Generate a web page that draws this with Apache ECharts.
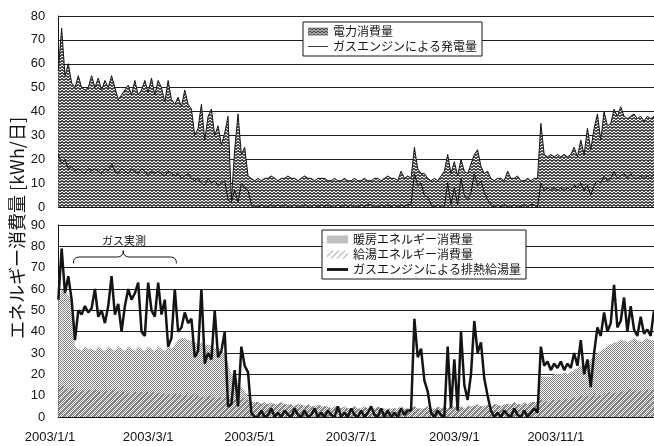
<!DOCTYPE html>
<html>
<head>
<meta charset="utf-8">
<script src="https://cdn.jsdelivr.net/npm/echarts@6/dist/echarts.min.js"></script>
<style>
  html, body { margin: 0; padding: 0; background: #fff; }
  #chart { width: 654px; height: 446px; }
</style>
</head>
<body>
<div id="chart"></div>
<script>
// Daily energy records for 2003, sampled every second day starting at day-of-year 5.
const firstDay = 5;
const dayStep = 2;

// Upper panel [kWh/day]
const power = [
  57, 75, 55, 60, 52, 50, 55, 50, 49, 50,
  55, 50, 54, 49, 53, 50, 55, 50, 45, 47,
  49, 51, 47, 53, 47, 49, 53, 48, 54, 47,
  53, 50, 44, 53, 45, 43, 46, 42, 49, 43,
  41, 30, 33, 43, 28, 38, 41, 30, 34, 26,
  31, 38, 3, 24, 39, 22, 25, 13, 12, 11,
  12, 11, 12, 12, 13, 12, 11, 12, 12, 13,
  12, 12, 11, 12, 13, 12, 12, 11, 12, 12,
  12, 11, 11, 12, 11, 11, 12, 11, 11, 12,
  11, 11, 12, 11, 11, 12, 12, 11, 12, 13,
  12, 12, 11, 15, 12, 13, 12, 25, 16, 14,
  14, 12, 11, 12, 11, 13, 15, 22, 14, 19,
  13, 20, 15, 14, 18, 22, 24, 17, 14, 15,
  12, 11, 12, 12, 11, 15, 12, 12, 13, 11,
  11, 12, 11, 12, 12, 35, 22, 21, 22, 21,
  22, 21, 22, 21, 22, 25, 21, 28, 22, 33,
  24, 33, 39, 28, 40, 34, 35, 41, 38, 42,
  38, 37, 38, 39, 37, 38, 36, 38, 37, 38
];
const gasGen = [
  22, 18, 20, 16, 17, 15, 16, 15, 14, 16,
  15, 16, 15, 14, 16, 15, 18, 15, 14, 16,
  15, 14, 16, 15, 14, 16, 15, 13, 15, 14,
  15, 14, 13, 15, 14, 13, 14, 12, 13, 14,
  12, 11, 12, 10, 9, 12, 10, 11, 9, 10,
  11, 3, 2, 7, 2, 10, 8, 7, 1, 0,
  0, 1, 0, 0, 1, 0, 1, 0, 1, 0,
  0, 1, 0, 0, 1, 0, 0, 1, 0, 1,
  0, 1, 0, 0, 1, 0, 1, 0, 1, 0,
  0, 1, 0, 1, 1, 0, 0, 1, 0, 1,
  0, 1, 0, 1, 0, 1, 1, 14, 9, 10,
  5, 4, 1, 0, 1, 0, 0, 10, 1, 8,
  1, 12, 5, 3, 6, 14, 9, 11, 6, 3,
  1, 0, 1, 0, 1, 0, 0, 1, 0, 0,
  1, 0, 1, 1, 0, 10, 7, 8, 7, 8,
  7, 8, 7, 8, 7, 9, 8, 10, 7, 9,
  5, 9, 11, 10, 13, 11, 12, 15, 12, 13,
  14, 12, 14, 12, 12, 13, 12, 13, 12, 14
];

// Lower panel [kWh/day]
const heating = [
  41, 45, 44, 44, 41, 20, 20, 18, 21, 19,
  20, 18, 21, 20, 18, 21, 20, 18, 21, 20,
  19, 22, 20, 19, 22, 20, 20, 21, 21, 19,
  22, 20, 20, 22, 22, 23, 25, 27, 26, 26,
  26, 24, 24, 25, 24, 24, 23, 23, 23, 22,
  21, 16, 12, 13, 7, 6, 3, 2, 0, 0,
  0, 0, 0, 0, 0, 0, 0, 0, 0, 0,
  0, 0, 0, 0, 0, 0, 0, 0, 0, 0,
  0, 0, 0, 0, 0, 0, 0, 0, 0, 0,
  0, 0, 0, 0, 0, 0, 0, 0, 0, 0,
  0, 0, 0, 0, 0, 0, 0, 0, 0, 0,
  0, 0, 0, 0, 0, 0, 0, 0, 0, 0,
  0, 0, 0, 0, 0, 0, 0, 0, 0, 0,
  0, 0, 0, 0, 0, 0, 0, 0, 0, 0,
  0, 0, 0, 0, 0, 11, 11, 12, 11, 12,
  12, 12, 12, 12, 12, 13, 14, 14, 15, 16,
  17, 18, 19, 21, 21, 22, 22, 24, 23, 24,
  24, 23, 23, 25, 23, 23, 23, 24, 24, 23
];
const hotWater = [
  14, 15, 14, 13, 14, 13, 12, 13, 12, 13,
  12, 13, 12, 12, 13, 12, 12, 13, 12, 12,
  12, 11, 12, 12, 11, 12, 11, 12, 11, 12,
  11, 12, 11, 11, 10, 11, 11, 10, 11, 10,
  10, 11, 10, 10, 9, 10, 10, 9, 10, 9,
  9, 9, 8, 9, 8, 8, 9, 8, 7, 7,
  7, 6, 7, 6, 7, 6, 6, 7, 6, 6,
  6, 5, 6, 6, 5, 6, 5, 5, 6, 5,
  5, 5, 4, 5, 5, 4, 5, 4, 4, 5,
  4, 4, 5, 4, 4, 4, 5, 4, 4, 4,
  4, 4, 4, 5, 4, 4, 4, 5, 4, 4,
  4, 5, 4, 4, 5, 4, 5, 4, 5, 5,
  5, 5, 4, 5, 5, 5, 6, 5, 5, 6,
  5, 6, 6, 5, 6, 6, 6, 7, 6, 6,
  7, 6, 7, 7, 7, 8, 8, 7, 8, 8,
  8, 8, 9, 8, 9, 9, 9, 10, 9, 10,
  10, 10, 11, 10, 11, 11, 12, 11, 12, 12,
  12, 12, 13, 12, 13, 12, 13, 13, 12, 13
];
const exhaustHeat = [
  55, 79, 58, 66, 55, 36, 50, 48, 52, 49,
  51, 60, 47, 50, 44, 52, 66, 48, 53, 40,
  52, 60, 55, 58, 63, 40, 38, 63, 50, 47,
  63, 48, 55, 33, 37, 60, 40, 42, 49, 44,
  46, 28, 31, 60, 25, 30, 27, 50, 28, 31,
  40, 5, 6, 22, 5, 33, 24, 21, 2, 0,
  0, 3, 0, 1, 4, 0, 2, 0, 3, 1,
  0, 4, 1, 0, 3, 0, 1, 4, 0, 2,
  0, 3, 1, 0, 5, 0, 2, 0, 4, 1,
  0, 3, 0, 2, 5, 1, 0, 4, 0, 3,
  0, 2, 0, 4, 1, 3, 3, 46, 28, 32,
  17, 12, 2, 0, 3, 1, 0, 33, 4, 27,
  3, 40, 15, 8, 20, 45, 30, 35, 18, 10,
  3, 0, 2, 0, 3, 1, 0, 4, 1, 0,
  3, 0, 2, 4, 2, 33, 24, 26, 22, 25,
  23, 26, 22, 25, 23, 30, 24, 36, 20, 27,
  14, 30, 42, 38, 49, 40, 44, 62, 42, 45,
  56, 40, 52, 41, 38, 47, 39, 41, 38, 50
];

// Month labels on the date axis (day-of-year of each label)
const monthDays = [0, 59, 120, 181, 243, 304];
const monthLabels = ['2003/1/1', '2003/3/1', '2003/5/1', '2003/7/1', '2003/9/1', '2003/11/1'];

const seriesNames = {
  power: '電力消費量',
  gasGen: 'ガスエンジンによる発電量',
  heating: '暖房エネルギー消費量',
  hotWater: '給湯エネルギー消費量',
  exhaust: 'ガスエンジンによる排熱給湯量'
};

const days = power.map((_, i) => firstDay + dayStep * i);
const pairs = arr => days.map((d, i) => [d, arr[i]]);
// heating is drawn on top of hot-water use, so its band reaches the sum of both
const heatingTop = heating.map((v, i) => v + hotWater[i]);

// Fill patterns
function makePattern(w, h, draw, opaque) {
  const c = document.createElement('canvas');
  c.width = w; c.height = h;
  const ctx = c.getContext('2d');
  if (opaque) {
    ctx.fillStyle = '#fff';
    ctx.fillRect(0, 0, w, h);
  }
  draw(ctx);
  return { image: c, repeat: 'repeat' };
}
const waveFill = makePattern(4, 3, ctx => {
  ctx.strokeStyle = '#1a1a1a';
  ctx.lineWidth = 1.2;
  ctx.beginPath();
  ctx.moveTo(-2, 0.6); ctx.lineTo(0, 2.4); ctx.lineTo(2, 0.6); ctx.lineTo(4, 2.4); ctx.lineTo(6, 0.6);
  ctx.stroke();
}, true);
const dotFill = makePattern(2, 2, ctx => {
  ctx.fillStyle = '#808080';
  ctx.fillRect(0, 0, 1, 1);
  ctx.fillRect(1, 1, 1, 1);
}, true);
// hatch lines only, so the heating dots stay visible underneath
const hatchFill = makePattern(6, 6, ctx => {
  ctx.strokeStyle = '#8c8c8c';
  ctx.lineWidth = 1;
  ctx.beginPath();
  ctx.moveTo(0, 6); ctx.lineTo(6, 0);
  ctx.moveTo(-1, 1); ctx.lineTo(1, -1);
  ctx.moveTo(5, 7); ctx.lineTo(7, 5);
  ctx.stroke();
}, false);
const hatchLegendFill = makePattern(6, 6, ctx => {
  ctx.strokeStyle = '#8c8c8c';
  ctx.lineWidth = 1;
  ctx.beginPath();
  ctx.moveTo(0, 6); ctx.lineTo(6, 0);
  ctx.moveTo(-1, 1); ctx.lineTo(1, -1);
  ctx.moveTo(5, 7); ctx.lineTo(7, 5);
  ctx.stroke();
}, true);

const latin = '"Liberation Sans", Arial, "Noto Sans CJK JP", sans-serif';
const cjk = '"Noto Sans CJK JP", "Liberation Sans", sans-serif';
const ink = '#141414';

const dayMin = firstDay;
const dayMax = days[days.length - 1];
const plotLeft = 50 + 5 * (604 / 363);

function valueAxisY(grid, max) {
  return {
    type: 'value', gridIndex: grid, min: 0, max: max, interval: 10,
    axisLine: { show: true, lineStyle: { color: ink, width: 1 } },
    axisTick: { show: false },
    axisLabel: { color: ink, fontSize: 13, fontFamily: latin, margin: 13 },
    splitLine: { show: true, lineStyle: { color: '#1e1e1e', width: 1.2 } }
  };
}
function dataAxisX(grid) {
  return {
    type: 'value', gridIndex: grid, min: dayMin, max: dayMax,
    axisLine: { show: true, onZero: false, lineStyle: { color: ink, width: 1.2 } },
    axisTick: { show: false }, axisLabel: { show: false }, splitLine: { show: false }
  };
}

const legendText = { color: ink, fontSize: 12, fontFamily: cjk, lineHeight: 13 };
const lineIconThin = 'path://M0,0H24V1H0Z';
const lineIconThick = 'path://M0,0H22V3H0Z';

const chart = echarts.init(document.getElementById('chart'), null, { renderer: 'canvas' });
chart.setOption({
  animation: false,
  backgroundColor: '#fff',
  grid: [
    { left: plotLeft, right: 0, top: 16, height: 191 },
    { left: plotLeft, right: 0, top: 225, height: 192 },
    { left: 50, right: 0, top: 416, height: 1 }
  ],
  xAxis: [
    dataAxisX(0),
    dataAxisX(1),
    {
      type: 'value', gridIndex: 2, min: 0, max: 363,
      axisLine: { show: false }, axisTick: { show: false }, splitLine: { show: false },
      axisLabel: {
        color: ink, fontSize: 13, fontFamily: latin, margin: 14,
        customValues: monthDays,
        formatter: v => monthLabels[monthDays.indexOf(v)] || ''
      }
    }
  ],
  yAxis: [
    valueAxisY(0, 80),
    valueAxisY(1, 90),
    { type: 'value', gridIndex: 2, show: false }
  ],
  legend: [
    {
      left: 303, top: 22, orient: 'vertical', selectedMode: false,
      backgroundColor: '#fff', borderColor: ink, borderWidth: 1, borderRadius: 0,
      padding: [3, 5, 3, 5], itemGap: 2, itemWidth: 20, itemHeight: 8,
      textStyle: legendText,
      data: [
        { name: seriesNames.power, icon: 'rect', itemStyle: { color: waveFill, borderWidth: 0 } },
        { name: seriesNames.gasGen, icon: lineIconThin, itemStyle: { color: ink, borderWidth: 0 } }
      ]
    },
    {
      left: 322, top: 230, orient: 'vertical', selectedMode: false,
      backgroundColor: '#fff', borderColor: ink, borderWidth: 1, borderRadius: 0,
      padding: [3, 5, 3, 5], itemGap: 2, itemWidth: 21, itemHeight: 8,
      textStyle: legendText,
      data: [
        { name: seriesNames.heating, icon: 'rect', itemStyle: { color: dotFill, borderWidth: 0 } },
        { name: seriesNames.hotWater, icon: 'rect', itemStyle: { color: hatchLegendFill, borderWidth: 0 } },
        { name: seriesNames.exhaust, icon: lineIconThick, itemStyle: { color: ink, borderWidth: 0 } }
      ]
    }
  ],
  series: [
    {
      name: seriesNames.power, type: 'line', xAxisIndex: 0, yAxisIndex: 0,
      data: pairs(power), symbol: 'none', z: 2,
      lineStyle: { color: ink, width: 1 },
      itemStyle: { color: ink },
      areaStyle: { color: waveFill, opacity: 1 }
    },
    {
      name: seriesNames.gasGen, type: 'line', xAxisIndex: 0, yAxisIndex: 0,
      data: pairs(gasGen), symbol: 'none', z: 3,
      lineStyle: { color: ink, width: 1 },
      itemStyle: { color: ink }
    },
    {
      name: seriesNames.heating, type: 'line', xAxisIndex: 1, yAxisIndex: 1,
      data: pairs(heatingTop), symbol: 'none', z: 1,
      lineStyle: { width: 0 },
      itemStyle: { color: '#999' },
      areaStyle: { color: dotFill, opacity: 1 }
    },
    {
      name: seriesNames.hotWater, type: 'line', xAxisIndex: 1, yAxisIndex: 1,
      data: pairs(hotWater), symbol: 'none', z: 2,
      lineStyle: { width: 0 },
      itemStyle: { color: '#999' },
      areaStyle: { color: hatchFill, opacity: 1 }
    },
    {
      name: seriesNames.exhaust, type: 'line', xAxisIndex: 1, yAxisIndex: 1,
      data: pairs(exhaustHeat), symbol: 'none', z: 3,
      lineStyle: { color: ink, width: 2.5 },
      itemStyle: { color: ink }
    }
  ]
});

// Brace marking the gas-metered period, placed in data coordinates of the lower panel
const toPx = (d, v) => chart.convertToPixel({ xAxisIndex: 1, yAxisIndex: 1 }, [d, v]);
const braceStart = 14, braceEnd = 76, braceMid = 44;
const pL = toPx(braceStart, 72), pR = toPx(braceEnd, 72);
const yMid = toPx(braceMid, 75)[1], yTip = toPx(braceMid, 78)[1];
const xc = toPx(braceMid, 0)[0];
const r = 6;
const braceStyle = { fill: null, stroke: ink, lineWidth: 1 };
const curve = (x1, y1, cx, cy, x2, y2) => ({
  type: 'bezierCurve', z: 10, style: braceStyle,
  shape: { x1: x1, y1: y1, cpx1: cx, cpy1: cy, x2: x2, y2: y2 }
});
const seg = (x1, y1, x2, y2) => ({
  type: 'line', z: 10, style: braceStyle,
  shape: { x1: x1, y1: y1, x2: x2, y2: y2 }
});
const labelPos = toPx(braceMid + 0.5, 82.5);

chart.setOption({
  graphic: [
    {
      type: 'text', x: 17, y: 228, rotation: Math.PI / 2,
      style: {
        text: 'エネルギー消費量 [kWh/日]', fill: ink,
        font: '18px "Noto Sans CJK JP", "Liberation Sans", sans-serif',
        align: 'center', verticalAlign: 'middle'
      }
    },
    curve(pL[0], pL[1], pL[0], yMid, pL[0] + r, yMid),
    seg(pL[0] + r, yMid, xc - r, yMid),
    curve(xc - r, yMid, xc, yMid, xc, yTip),
    curve(xc, yTip, xc, yMid, xc + r, yMid),
    seg(xc + r, yMid, pR[0] - r, yMid),
    curve(pR[0] - r, yMid, pR[0], yMid, pR[0], pR[1]),
    {
      type: 'text', x: labelPos[0], y: labelPos[1], z: 10,
      style: {
        text: 'ガス実測', fill: ink,
        font: '11px "Noto Sans CJK JP", sans-serif',
        align: 'center', verticalAlign: 'middle'
      }
    }
  ]
});
</script>
</body>
</html>
